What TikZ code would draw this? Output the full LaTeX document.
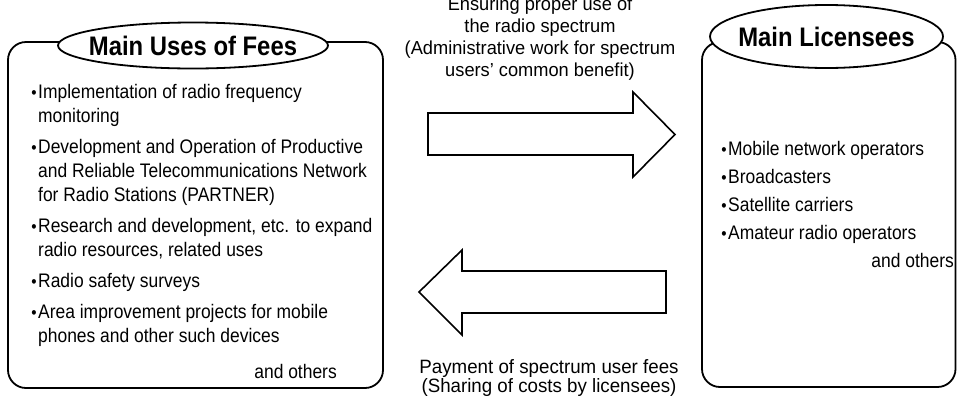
\documentclass[tikz,border=0pt]{standalone}
\usepackage{fontspec}
\setmainfont{Liberation Sans}
\newfontfamily\bodyfont[FakeStretch=0.89]{Liberation Sans}
\newfontfamily\capfont[FakeStretch=0.97]{Liberation Sans}
\newfontfamily\headfont[FakeStretch=0.89]{Liberation Sans Bold}
\usetikzlibrary{shapes.geometric}
% small round bullet hanging to the left of an item
\newcommand\itemdot{\llap{{\fontsize{17}{17}\selectfont •}\hspace{1.5pt}}}

\begin{document}
\begin{tikzpicture}[x=1pt,y=-1pt,
  panel/.style={draw, line width=1.8pt, rounded corners=18pt, inner sep=0pt},
  titlebox/.style={ellipse, draw, line width=1.8pt, fill=white, inner sep=0pt},
  titletext/.style={inner sep=0pt, font=\headfont\fontsize{26.8}{28}\selectfont},
  body/.style={inner sep=0pt, font=\bodyfont\fontsize{19.6}{24}\selectfont},
  caption/.style={inner sep=0pt, font=\capfont\fontsize{18.8}{22}\selectfont},
  blockarrow/.style={draw, line width=1.6pt, line join=miter, fill=white}]

\useasboundingbox (0,0) rectangle (957,397);

% the two panels
\node[panel, minimum width=375pt, minimum height=346pt] (usesbox) at (195.5,215) {};
\node[panel, minimum width=253.5pt, minimum height=345pt] (licbox) at (828.75,214.5) {};

% panel titles sitting on the top edges
\node[titlebox, minimum width=270pt, minimum height=46pt,
      label={[titletext]center:Main Uses of Fees}] (usestitle) at (193,45.5) {};
\node[titlebox, minimum width=233pt, minimum height=63pt,
      label={[titletext]center:Main Licensees}] (lictitle) at (826.5,36.5) {};

% list of uses
\node[body, anchor=base west] (uses) at (38,98) {\begin{tabular}[t]{@{}l@{}}
\itemdot Implementation of radio frequency\\
monitoring\\[7pt]
\itemdot Development and Operation of Productive\\
and Reliable Telecommunications Network\\
for Radio Stations (PARTNER)\\[7pt]
\itemdot Research and development, etc. to expand\\
radio resources, related uses\\[7pt]
\itemdot Radio safety surveys\\[7pt]
\itemdot Area improvement projects for mobile\\
phones and other such devices
\end{tabular}};
\node[body, anchor=base east] (usesmore) at (337,378) {and others};

% list of licensees
\node[body, font=\bodyfont\fontsize{19.6}{28}\selectfont, anchor=base west] (licensees) at (728,155) {\begin{tabular}[t]{@{}l@{}}
\itemdot Mobile network operators\\
\itemdot Broadcasters\\
\itemdot Satellite carriers\\
\itemdot Amateur radio operators
\end{tabular}};
\node[body, anchor=base east] (licmore) at (954,267) {and others};

% block arrows between the panels
\draw[blockarrow] (428,113) -- (633,113) -- (633,92) -- (675,134.5) -- (633,177) -- (633,155) -- (428,155) -- cycle;
\draw[blockarrow] (666,271) -- (462,271) -- (462,250) -- (419,292) -- (462,335) -- (462,313) -- (666,313) -- cycle;

% arrow captions
\node[caption, anchor=base] (ensure) at (540,10) {\begin{tabular}[t]{@{}c@{}}
Ensuring proper use of\\
the radio spectrum\\
(Administrative work for spectrum\\
users’ common benefit)
\end{tabular}};
\node[caption, font=\capfont\fontsize{19.3}{19}\selectfont, anchor=base] (pay) at (549,373) {\begin{tabular}[t]{@{}c@{}}
Payment of spectrum user fees\\
(Sharing of costs by licensees)
\end{tabular}};
\end{tikzpicture}
\end{document}
